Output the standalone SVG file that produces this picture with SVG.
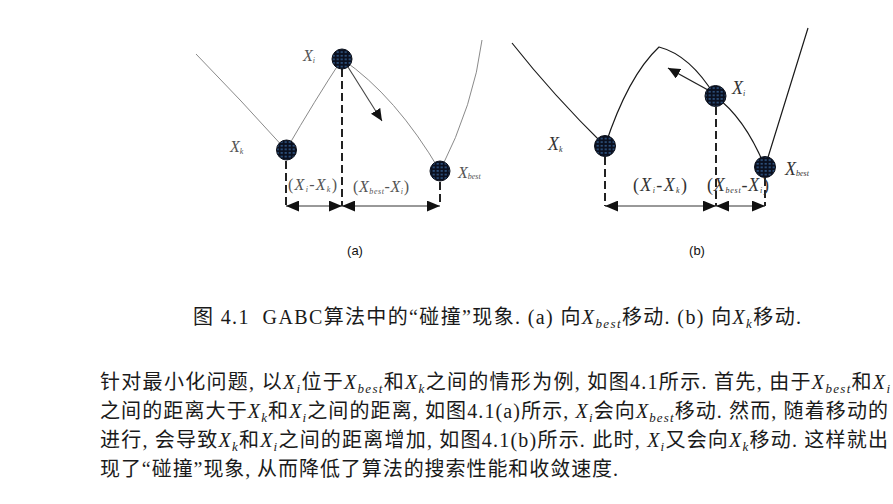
<svg xmlns="http://www.w3.org/2000/svg" width="893" height="504" viewBox="0 0 893 504">
<defs>
<pattern id="dots" patternUnits="userSpaceOnUse" width="4" height="3.6">
<rect width="4" height="3.6" fill="#0a1020"/>
<rect x="0.6" y="1.2" width="2.2" height="1.1" fill="#3d6fa8"/>
</pattern>
<marker id="ah" markerUnits="userSpaceOnUse" markerWidth="13" markerHeight="11" refX="12" refY="5" orient="auto-start-reverse" viewBox="0 0 12 10"><path d="M0,0 L12,5 L0,10 z" fill="#111"/></marker>
<marker id="ahc" markerUnits="userSpaceOnUse" markerWidth="12" markerHeight="11" refX="11" refY="5" orient="auto" viewBox="0 0 11 10"><path d="M0,0 L11,5 L0,10 z" fill="#111"/></marker>
<style>
.node{fill:url(#dots);stroke:#0a0f1a;stroke-width:1}
.curveA{fill:none;stroke:#8a8a8a;stroke-width:1}
.curveB{fill:none;stroke:#1a1a1a;stroke-width:1.2;stroke-linejoin:round}
.dash{stroke:#222;stroke-width:2;stroke-dasharray:8 4;fill:none}
.dim{stroke:#333;stroke-width:1;fill:none}
.arrA{stroke:#444;stroke-width:1.1;fill:none}
.arrB{stroke:#222;stroke-width:1.4;fill:none}
.lblA{font-family:"Liberation Serif",serif;font-size:16px;fill:#555}
.lblB{font-family:"Liberation Serif",serif;font-size:18px;fill:#333}
.it{font-style:italic}
.sub{font-size:8px;font-style:italic}
.pan{font-family:"Liberation Sans",Arial,sans-serif;font-size:13px;fill:#111}
.body{font-family:"Liberation Serif","Noto Sans CJK SC",serif;font-size:20px;fill:#1a1a1a}
.sb{font-size:13px;font-style:italic}
</style>
</defs>
<rect width="893" height="504" fill="#ffffff"/>

<g id="connectors">
<path class="curveA" d="M196,54 Q241,100 286,150 Q315,100 342,59 Q396,96 440,171 Q474,104 482,40"/>
<path class="curveB" d="M512,43 Q553,95 605,146 Q628,76 659,47 Q690,55 715,96 Q745,118 765,167 Q786,100 808,28"/>
<path class="arrA" d="M348,67 L382,121" marker-end="url(#ahc)"/>
<path class="arrB" d="M708,90 L668,68" marker-end="url(#ahc)"/>
<path class="dash" d="M342,69 V206"/>
<path class="dash" d="M286,161 V206"/>
<path class="dash" d="M440,182 V206"/>
<path class="dash" d="M605,157 V206"/>
<path class="dash" d="M716,107 V206"/>
<path class="dash" d="M765,178 V206"/>
<path class="dim" d="M286,206 H342" marker-start="url(#ah)" marker-end="url(#ah)"/>
<path class="dim" d="M342,206 H440" marker-start="url(#ah)" marker-end="url(#ah)"/>
<path class="dim" d="M605,206 H716" marker-start="url(#ah)" marker-end="url(#ah)"/>
<path class="dim" d="M716,206 H765" marker-start="url(#ah)" marker-end="url(#ah)"/>
</g>

<g id="node-a-xi"><circle class="node" cx="342" cy="59" r="10"/><text class="lblA" x="303" y="61"><tspan class="it">X</tspan><tspan class="sub" dy="2">i</tspan></text></g>
<g id="node-a-xk"><circle class="node" cx="286.5" cy="150" r="10"/><text class="lblA" x="230" y="152"><tspan class="it">X</tspan><tspan class="sub" dy="2">k</tspan></text></g>
<g id="node-a-xbest"><circle class="node" cx="440" cy="171" r="10"/><text class="lblA" x="458" y="178"><tspan class="it">X</tspan><tspan class="sub" dy="1">best</tspan></text></g>
<g id="labels-a">
<text class="lblA" x="288" y="190" textLength="49" lengthAdjust="spacing">(<tspan class="it">X</tspan><tspan class="sub" dy="2">i</tspan><tspan dy="-2">-</tspan><tspan class="it">X</tspan><tspan class="sub" dy="2">k</tspan><tspan dy="-2">)</tspan></text>
<text class="lblA" x="353" y="192" textLength="56" lengthAdjust="spacing">(<tspan class="it">X</tspan><tspan class="sub" dy="2">best</tspan><tspan dy="-2">-</tspan><tspan class="it">X</tspan><tspan class="sub" dy="2">i</tspan><tspan dy="-2">)</tspan></text>
<text class="pan" x="355" y="255" text-anchor="middle">(a)</text>
</g>

<g id="node-b-xk"><circle class="node" cx="605" cy="146" r="10.5"/><text class="lblB" x="548" y="150"><tspan class="it">X</tspan><tspan class="sub" dy="2">k</tspan></text></g>
<g id="node-b-xi"><circle class="node" cx="715.5" cy="96" r="10.5"/><text class="lblB" x="732" y="94"><tspan class="it">X</tspan><tspan class="sub" dy="2">i</tspan></text></g>
<g id="node-b-xbest"><circle class="node" cx="765" cy="167" r="10.5"/><text class="lblB" x="785" y="175"><tspan class="it">X</tspan><tspan class="sub" dy="1">best</tspan></text></g>
<g id="labels-b">
<text class="lblB" x="633" y="191" textLength="54" lengthAdjust="spacing">(<tspan class="it">X</tspan><tspan class="sub" dy="2">i</tspan><tspan dy="-2">-</tspan><tspan class="it">X</tspan><tspan class="sub" dy="2">k</tspan><tspan dy="-2">)</tspan></text>
<text class="lblB" x="707" y="191" textLength="62" lengthAdjust="spacing">(<tspan class="it">X</tspan><tspan class="sub" dy="2">best</tspan><tspan dy="-2">-</tspan><tspan class="it">X</tspan><tspan class="sub" dy="2">i</tspan><tspan dy="-2">)</tspan></text>
<text class="pan" x="697" y="255" text-anchor="middle">(b)</text>
</g>

<g id="caption">
<text class="body" x="193" y="324" textLength="608" lengthAdjust="spacing">图 4.1&#160; GABC算法中的“碰撞”现象. (a) 向<tspan class="it">X</tspan><tspan class="sb" dy="4">best</tspan><tspan dy="-4">移动. (b) 向</tspan><tspan class="it">X</tspan><tspan class="sb" dy="4">k</tspan><tspan dy="-4">移动.</tspan></text>
</g>

<g id="paragraph">
<text class="body" x="100" y="389" textLength="790" lengthAdjust="spacing">针对最小化问题, 以<tspan class="it">X</tspan><tspan class="sb" dy="4">i</tspan><tspan dy="-4">位于</tspan><tspan class="it">X</tspan><tspan class="sb" dy="4">best</tspan><tspan dy="-4">和</tspan><tspan class="it">X</tspan><tspan class="sb" dy="4">k</tspan><tspan dy="-4">之间的情形为例, 如图4.1所示. 首先, 由于</tspan><tspan class="it">X</tspan><tspan class="sb" dy="4">best</tspan><tspan dy="-4">和</tspan><tspan class="it">X</tspan><tspan class="sb" dy="4">i</tspan></text>
<text class="body" x="100" y="418" textLength="788" lengthAdjust="spacing">之间的距离大于<tspan class="it">X</tspan><tspan class="sb" dy="4">k</tspan><tspan dy="-4">和</tspan><tspan class="it">X</tspan><tspan class="sb" dy="4">i</tspan><tspan dy="-4">之间的距离, 如图4.1(a)所示, </tspan><tspan class="it">X</tspan><tspan class="sb" dy="4">i</tspan><tspan dy="-4">会向</tspan><tspan class="it">X</tspan><tspan class="sb" dy="4">best</tspan><tspan dy="-4">移动. 然而, 随着移动的</tspan></text>
<text class="body" x="100" y="447" textLength="788" lengthAdjust="spacing">进行, 会导致<tspan class="it">X</tspan><tspan class="sb" dy="4">k</tspan><tspan dy="-4">和</tspan><tspan class="it">X</tspan><tspan class="sb" dy="4">i</tspan><tspan dy="-4">之间的距离增加, 如图4.1(b)所示. 此时, </tspan><tspan class="it">X</tspan><tspan class="sb" dy="4">i</tspan><tspan dy="-4">又会向</tspan><tspan class="it">X</tspan><tspan class="sb" dy="4">k</tspan><tspan dy="-4">移动. 这样就出</tspan></text>
<text class="body" x="100" y="476" textLength="518" lengthAdjust="spacing">现了“碰撞”现象, 从而降低了算法的搜索性能和收敛速度.</text>
</g>
</svg>
